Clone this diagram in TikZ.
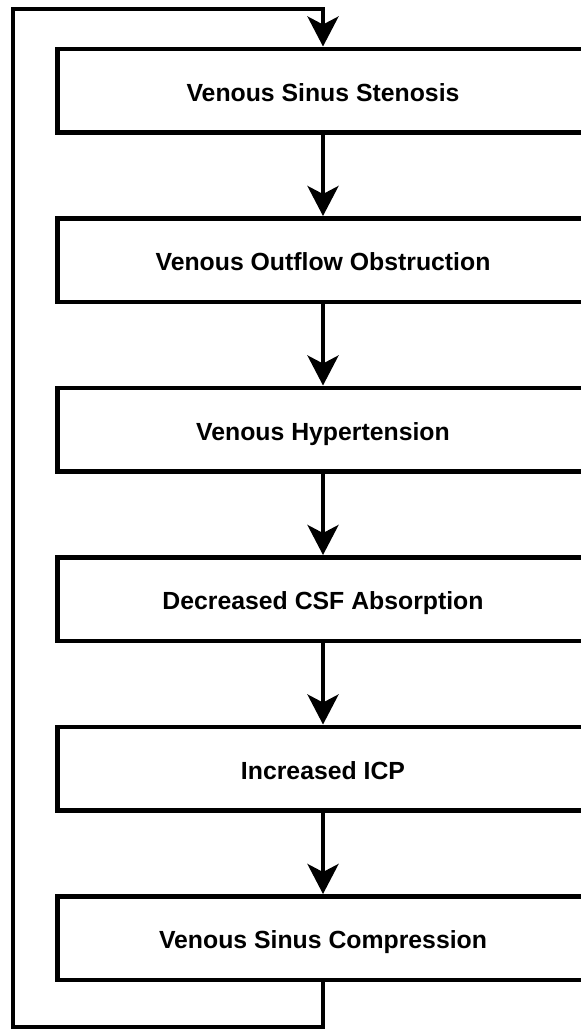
\documentclass[tikz,border=0pt]{standalone}
\usepackage{fontspec}
\setmainfont{Liberation Sans}
\usetikzlibrary{arrows.meta}
\tikzset{
  stepbox/.style={draw=black, line width=4.5pt, fill=white, rectangle,
    minimum width=531pt, minimum height=83.5pt, inner sep=0pt,
    text height=21.8pt, text depth=0pt, align=center,
    font=\fontsize{24.8pt}{28pt}\selectfont\bfseries},
  flow/.style={draw=black, line width=4pt, line join=miter,
    -{Stealth[length=30pt, width=31pt, inset=8pt]}},
  loopline/.style={draw=black, line width=4pt, line join=miter}
}
\begin{document}
\begin{tikzpicture}[x=1pt, y=-1pt]
\fill[white] (0,0) rectangle (581,1029);
\useasboundingbox (0,0) rectangle (581,1029);
\clip (0,0) rectangle (581,1029);
\node[stepbox] (b1) at (323,90.5) {Venous Sinus Stenosis};
\node[stepbox] (b2) at (323,260) {Venous Outflow Obstruction};
\node[stepbox] (b3) at (323,429.5) {Venous Hypertension};
\node[stepbox] (b4) at (323,599) {Decreased CSF Absorption};
\node[stepbox] (b5) at (323,768.5) {Increased ICP};
\node[stepbox] (b6) at (323,938) {Venous Sinus Compression};
\draw[flow] (b1.south) -- (b2.north);
\draw[flow] (b2.south) -- (b3.north);
\draw[flow] (b3.south) -- (b4.north);
\draw[flow] (b4.south) -- (b5.north);
\draw[flow] (b5.south) -- (b6.north);
\coordinate (bl) at (13,1026.5);
\coordinate (tl) at (13,9);
\draw[flow] (b6.south) |- (bl) -- (tl) -| (b1.north);
\end{tikzpicture}
\end{document}
